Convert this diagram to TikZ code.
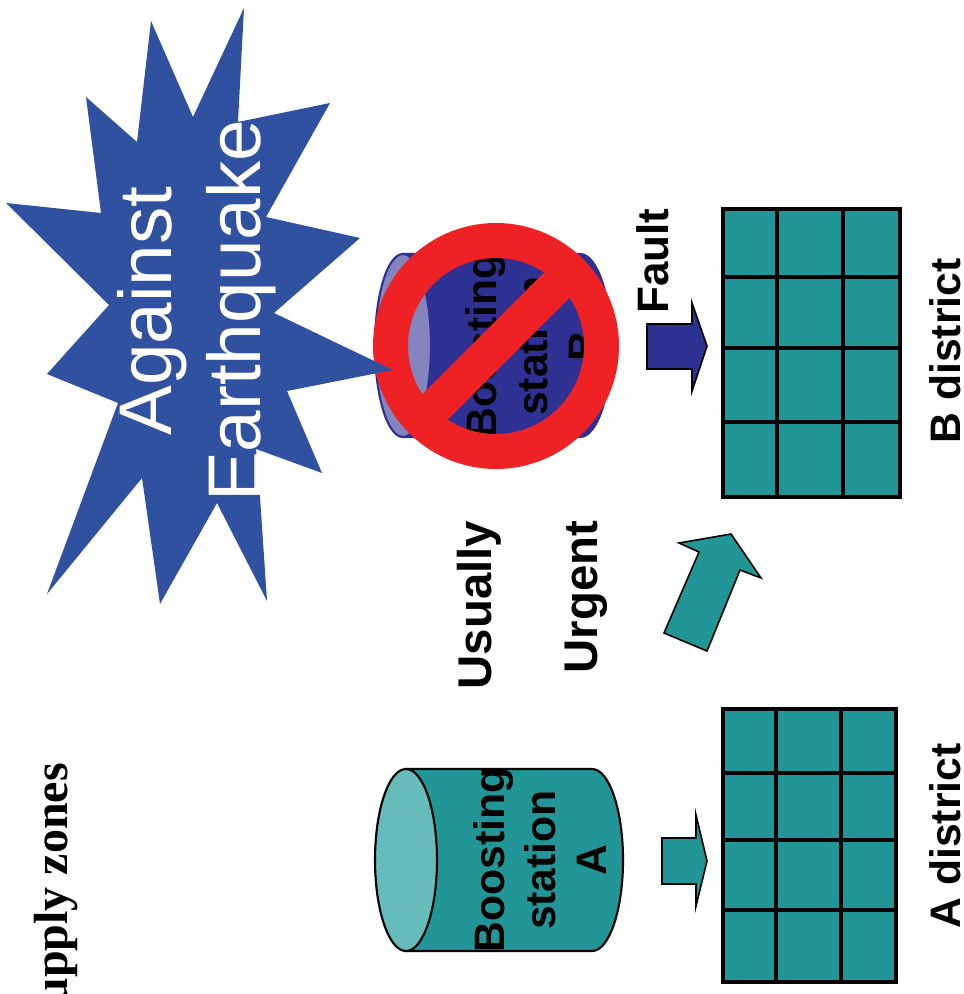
\documentclass[tikz,border=0pt]{standalone}
\usepackage{fontspec}
\setmainfont{Liberation Sans}
\newfontfamily\serifface{Liberation Serif}
\definecolor{tealfill}{HTML}{229696}
\definecolor{tealcap}{HTML}{66BBBB}
\definecolor{navyfill}{HTML}{2E3192}
\definecolor{navycap}{HTML}{8485BE}
\definecolor{starblue}{HTML}{3050A0}
\definecolor{nored}{HTML}{EE2224}
\tikzset{
  vtext/.style={rotate=90,inner sep=0pt,text=black},
  boldlabel/.style={vtext,anchor=base,font=\fontsize{#1}{#1}\selectfont\bfseries},
  stationtext/.style={vtext,anchor=center,align=center,font=\fontsize{32}{38.25}\selectfont\bfseries},
  blockarrow/.style={draw=black,line width=1.2pt,miter limit=12,line join=miter},
  gridcell/.style={draw=black,line width=3pt},
  cyl/.style={draw=#1,line width=1.6pt}
}
\begin{document}
\begin{tikzpicture}[x=0.75pt,y=-0.75pt]
\useasboundingbox (0,0) rectangle (963,994);
\clip (0,0) rectangle (963,994);

% title fragment
\node[vtext,anchor=base east,font=\fontsize{36}{36}\selectfont\serifface\bfseries] (title) at (67,763) {upply zones};

% cylinder A
\path[fill=tealfill,cyl=black] (406,769) -- (592,769) arc[start angle=-90,end angle=90,x radius=31,y radius=91] -- (406,951) -- cycle;
\path[fill=tealcap,cyl=black] (406,860) ellipse[x radius=31,y radius=91];
\node[stationtext] (stationA) at (540,860) {Boosting\\station\\A};

% cylinder B
\path[fill=navyfill,cyl=navyfill] (403,254) -- (580,254) arc[start angle=-90,end angle=90,x radius=31,y radius=91.5] -- (403,437) -- cycle;
\path[fill=navycap,cyl=navyfill] (403,345.5) ellipse[x radius=28,y radius=91.5];
\node[stationtext] (stationB) at (532,346) {Boosting\\station\\B};

% prohibition sign
\draw[nored,line width=26.25pt] (496,346) circle[radius=105.5];
\draw[nored,line width=27pt] (496,346) ++(-76,76) -- ++(152,-152);

% star
\path[fill=starblue] (244,8) -- (238,122) -- (330,103) -- (266,217) -- (360,238) -- (274,313) -- (393,370)
  -- (287,391) -- (322,473) -- (256,449) -- (260,497) -- (267,601) -- (217,503) -- (160,604) -- (142,478)
  -- (47,594) -- (118,403) -- (47,374) -- (109,305) -- (6,203) -- (101,213) -- (86,97) -- (137,142)
  -- (151,21) -- (193,117) -- cycle;
\node[vtext,anchor=center,align=center,text=white,font=\fontsize{56}{66.75}\selectfont] (quake) at (197,311) {Against\\Earthquake};

% labels
\node[boldlabel=35.5] (usually) at (491,605) {Usually};
\node[boldlabel=35.5] (urgent) at (597,597) {Urgent};
\node[boldlabel=33] (fault) at (668,261) {Fault};
\node[boldlabel=32] (bdistrict) at (960,351) {B district};
\node[boldlabel=32] (adistrict) at (960,836) {A district};

% block arrows
\path[blockarrow,fill=navyfill] (647,324) -- (692,324) -- (692,303) -- (707,346) -- (692,391) -- (692,369) -- (647,369) -- cycle;
\path[blockarrow,fill=tealfill] (662,838) -- (696,838) -- (696,815) -- (707,861) -- (696,906) -- (696,884) -- (662,884) -- cycle;
\path[blockarrow,fill=tealfill] (664,633) -- (707,651) -- (740,570) -- (761,578) -- (731,534) -- (679,543) -- (699,552) -- cycle;

% district B
\path[gridcell,fill=tealfill] (723,209) rectangle (900,497);
\draw[gridcell] (777,209) -- (777,497) (843,209) -- (843,497)
  (723,277) -- (900,277) (723,348) -- (900,348) (723,422) -- (900,422);

% district A
\path[gridcell,fill=tealfill] (723,709) rectangle (896,982);
\draw[gridcell] (776,709) -- (776,982) (841,709) -- (841,982)
  (723,773) -- (896,773) (723,840) -- (896,840) (723,910) -- (896,910);
\end{tikzpicture}
\end{document}
